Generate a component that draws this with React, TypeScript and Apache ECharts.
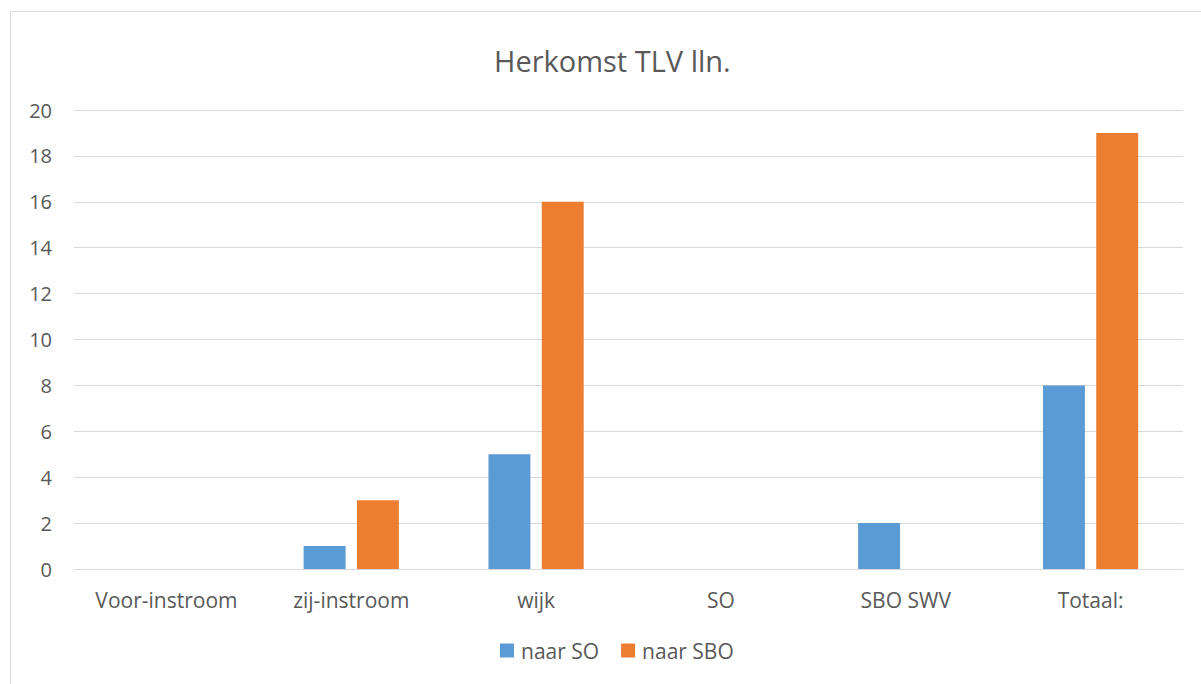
import React, { useEffect, useRef } from "react";
import * as echarts from "echarts";

const categories = ["Voor-instroom", "zij-instroom", "wijk", "SO", "SBO SWV", "Totaal:"];
const naarSO = [0, 1, 5, 0, 2, 8];
const naarSBO = [0, 3, 16, 0, 0, 19];
const seriesNames = ["naar SO", "naar SBO"];

export default function App() {
  const ref = useRef<HTMLDivElement>(null);
  useEffect(() => {
    document.body.style.margin = "0";
    const chart = echarts.init(ref.current!, null, { renderer: "svg" });
    const font = "Open Sans";
    const txt = "#595959";
    chart.setOption({
      animation: false,
      backgroundColor: "#ffffff",
      textStyle: { fontFamily: font },
      title: {
        text: "Herkomst TLV lln.",
        left: 489,
        top: 41,
        textStyle: { fontFamily: font, fontSize: 29, fontWeight: "normal", color: txt },
      },
      graphic: [
        {
          type: "rect",
          shape: { x: 10.5, y: 11.5, width: 1300, height: 800 },
          style: { fill: "none", stroke: "#d9d9d9", lineWidth: 1 },
          silent: true,
        },
      ],
      legend: {
        bottom: 18,
        left: 495,
        itemWidth: 14,
        itemHeight: 14,
        itemGap: 22,
        icon: "rect",
        textStyle: { fontFamily: font, fontSize: 21, color: txt, padding: [0, 0, 0, 2] },
        data: seriesNames,
      },
      grid: { left: 74, right: 18, top: 110, bottom: 115 },
      xAxis: {
        type: "category",
        data: categories,
        axisLine: { lineStyle: { color: "#d9d9d9", width: 1 } },
        axisTick: { show: false },
        axisLabel: { fontFamily: font, fontSize: 21, color: txt, margin: 20 },
      },
      yAxis: {
        type: "value",
        min: 0,
        max: 20,
        interval: 2,
        axisLine: { show: false },
        axisTick: { show: false },
        splitLine: { lineStyle: { color: "#d9d9d9", width: 1 } },
        axisLabel: { fontFamily: font, fontSize: 20, color: txt, margin: 22 },
      },
      series: [
        {
          name: seriesNames[0],
          type: "bar",
          data: naarSO,
          itemStyle: { color: "#5b9bd5" },
          barWidth: "22.7%",
          barGap: "27%",
        },
        {
          name: seriesNames[1],
          type: "bar",
          data: naarSBO,
          itemStyle: { color: "#ed7d31" },
          barWidth: "22.7%",
          barGap: "27%",
        },
      ],
    });
    return () => chart.dispose();
  }, []);
  return <div ref={ref} style={{ position: "fixed", left: 0, top: 0, width: 1201, height: 684 }} />;
}
